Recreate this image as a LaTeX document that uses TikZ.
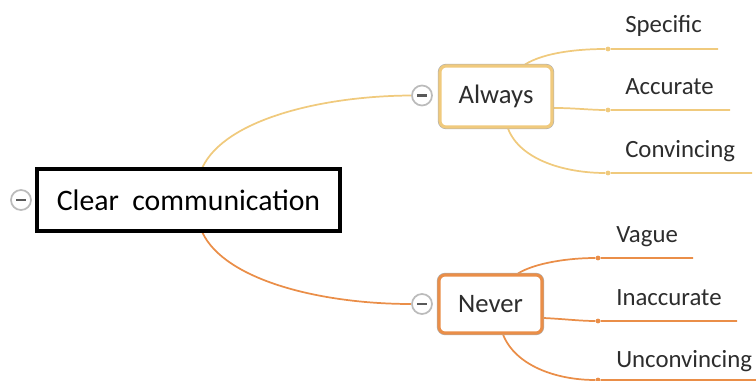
\documentclass[tikz,border=0pt]{standalone}
\usepackage{fontspec}
\setmainfont{Carlito}
\usetikzlibrary{backgrounds}
\definecolor{gold}{RGB}{240,202,125}
\definecolor{orng}{RGB}{234,142,72}
\definecolor{txt}{RGB}{45,45,45}
\definecolor{rim}{RGB}{175,175,175}
\tikzset{
  mainbox/.style={draw=black, line width=2.6pt, fill=white, minimum width=227pt, minimum height=46.5pt, inner sep=0pt, font=\fontsize{22.3}{25}\selectfont, text=black,
    preaction={draw=rim, line width=3.6pt}},
  topicbox/.style={draw=#1, line width=2.3pt, rounded corners=4.5pt, fill=white, inner sep=0pt, font=\fontsize{20}{23}\selectfont, text=txt,
    preaction={draw=rim, line width=3.2pt}},
  minus/.style={circle, draw=rim!85, line width=1.3pt, fill=white, minimum size=15pt, inner sep=0pt,
    path picture={\draw[line width=1.9pt, black!65] ([xshift=-3.6pt]path picture bounding box.center) -- ([xshift=3.6pt]path picture bounding box.center);}},
  leaf/.style={anchor=base west, inner sep=0pt, font=\fontsize{18.6}{21}\selectfont, text=txt},
  dot/.style={circle, fill=#1, minimum size=3.6pt, inner sep=0pt},
  conn/.style={draw=#1, line width=1.3pt},
}
\begin{document}
\begin{tikzpicture}[x=0.75pt, y=-0.75pt]
\useasboundingbox (0,0) rectangle (756,381);
% main
\node[mainbox] (main) at (188.5,200) {Clear\ \ communication};
\node[minus] (m0) at (21,200) {};
% topics
\node[topicbox=gold, minimum width=84pt, minimum height=45.75pt] (always) at (496,96.5) {Always};
\node[topicbox=orng, minimum width=77.25pt, minimum height=43.5pt] (never) at (490.5,304) {Never};
\node[minus] (m1) at (422,95.5) {};
\node[minus] (m2) at (422,304) {};
% dots
\node[dot=gold] (d1) at (608,49) {};
\node[dot=gold] (d2) at (608,110) {};
\node[dot=gold] (d3) at (608,173) {};
\node[dot=orng] (d4) at (598,258) {};
\node[dot=orng] (d5) at (598,321) {};
\node[dot=orng] (d6) at (598,380) {};
\coordinate (e1) at (718,49);
\coordinate (e2) at (730,110);
\coordinate (e3) at (752,173);
\coordinate (e4) at (693,258);
\coordinate (e5) at (737,321);
\coordinate (e6) at (756,380);
\begin{scope}[on background layer]
% main connectors
\path[conn=gold] ([xshift=10.5pt]main.north) .. controls (225,120) and (320,96) .. (m1.west);
\path[conn=orng] ([xshift=10.5pt]main.south) .. controls (225,280) and (320,304) .. (m2.west);
% always leaves
\path[conn=gold] ([xshift=21.75pt]always.north) .. controls (545,52) and (580,49) .. (d1) -- (e1);
\path[conn=gold] ([yshift=-8.6pt]always.east) .. controls (575,108) and (590,110) .. (d2) -- (e2);
\path[conn=gold] ([xshift=9pt]always.south) .. controls (520,160) and (565,173) .. (d3) -- (e3);
% never leaves
\path[conn=orng] ([xshift=20.6pt]never.north) .. controls (535,263) and (568,258) .. (d4) -- (e4);
\path[conn=orng] ([yshift=-10.5pt]never.east) .. controls (565,319) and (580,321) .. (d5) -- (e5);
\path[conn=orng] ([xshift=9.4pt]never.south) .. controls (515,365) and (555,380) .. (d6) -- (e6);
\end{scope}
% leaf texts
\node[leaf] (t1) at (625,33) {Specific};
\node[leaf] (t2) at (625,95) {Accurate};
\node[leaf] (t3) at (625,157) {Convincing};
\node[leaf] (t4) at (616,242) {Vague};
\node[leaf] (t5) at (616,305) {Inaccurate};
\node[leaf] (t6) at (616,367) {Unconvincing};
\end{tikzpicture}
\end{document}
